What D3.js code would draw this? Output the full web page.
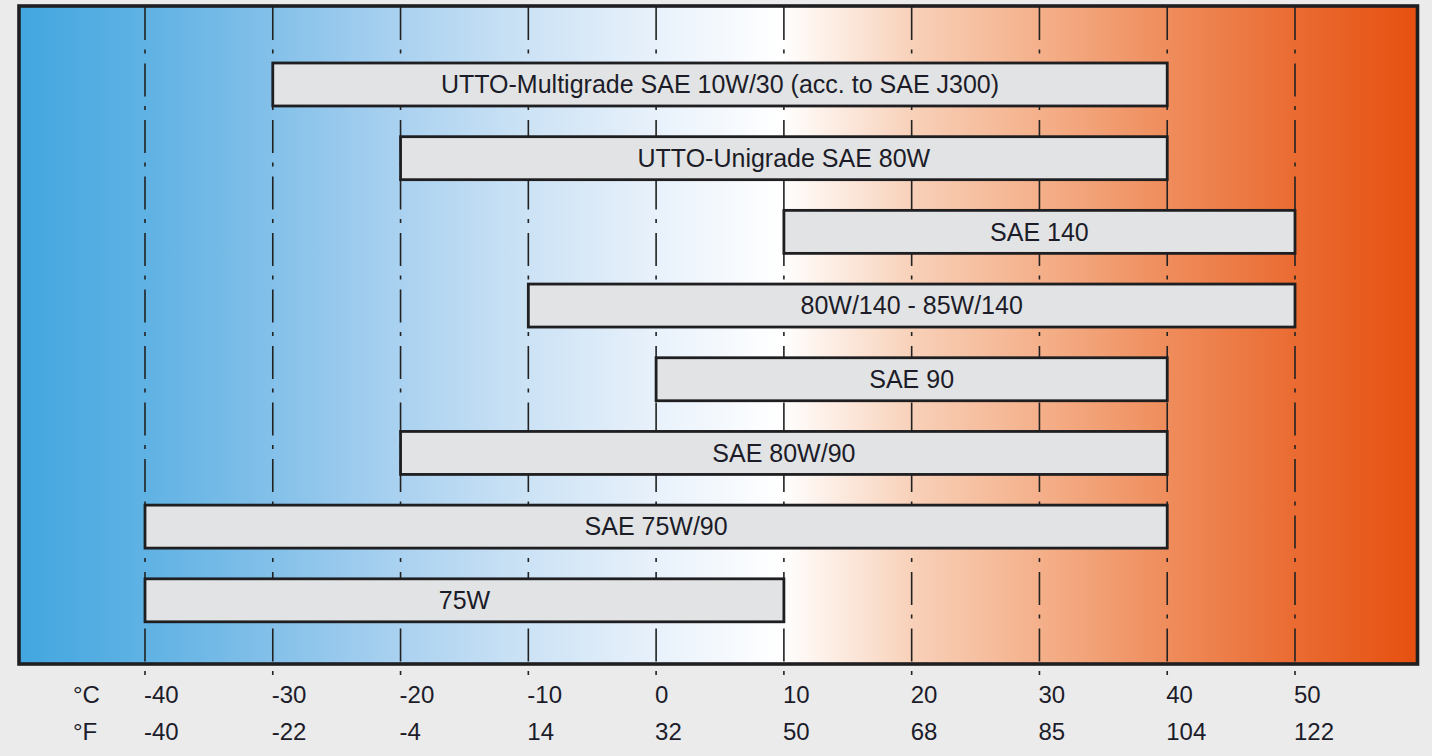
<!DOCTYPE html>
<html>
<head>
<meta charset="utf-8">
<script src="https://cdn.jsdelivr.net/npm/d3@7"></script>
<style>
  html, body { margin: 0; padding: 0; background: #ebebeb; }
  svg { display: block; }
  text { font-family: "Liberation Sans", Arial, Helvetica, sans-serif; }
</style>
</head>
<body>
<div id="chart"></div>
<script>
// ---- data ----
const categories = [
  "UTTO-Multigrade SAE 10W/30 (acc. to SAE J300)",
  "UTTO-Unigrade SAE 80W",
  "SAE 140",
  "80W/140 - 85W/140",
  "SAE 90",
  "SAE 80W/90",
  "SAE 75W/90",
  "75W"
];
const minTempC = [-30, -20, 10, -10, 0, -20, -40, -40];
const maxTempC = [40, 40, 50, 50, 40, 40, 40, 10];
const celsiusTicks = [-40, -30, -20, -10, 0, 10, 20, 30, 40, 50];
const fahrenheitLabels = ["-40", "-22", "-4", "14", "32", "50", "68", "85", "104", "122"];
const unitLabels = ["°C", "°F"];

const W = 1432, H = 756;
const frame = { left: 19, right: 1417.5, top: 6, bottom: 664 };

const svg = d3.select("#chart").append("svg")
  .attr("width", W).attr("height", H);

const x = d3.scaleLinear().domain([-40, 50]).range([145, 1295]);
const y = d3.scaleBand().domain(categories).range([32.3, 652.5])
  .paddingInner(0.4165).paddingOuter(0.4165);

// gradient
const defs = svg.append("defs");
const grad = defs.append("linearGradient").attr("id", "bg")
  .attr("x1", 0).attr("x2", 1).attr("y1", 0).attr("y2", 0);
const stops = [
  [0.00, "#42a6df"],
  [0.09, "#5fb2e4"],
  [0.18, "#83c0e9"],
  [0.27, "#a9d1f0"],
  [0.36, "#cbe2f5"],
  [0.455, "#e8f1fb"],
  [0.545, "#ffffff"],
  [0.60, "#fbe4d6"],
  [0.64, "#f8d0b8"],
  [0.73, "#f4b08a"],
  [0.82, "#ef8d5c"],
  [0.91, "#ea6c33"],
  [1.00, "#e6500f"]
];
stops.forEach(s => grad.append("stop").attr("offset", s[0]).attr("stop-color", s[1]));

// plot background
svg.append("rect")
  .attr("x", frame.left).attr("y", frame.top)
  .attr("width", frame.right - frame.left).attr("height", frame.bottom - frame.top)
  .attr("fill", "url(#bg)");

// dash-dot grid lines
svg.append("g").selectAll("line").data(celsiusTicks).join("line")
  .attr("x1", d => x(d)).attr("x2", d => x(d))
  .attr("y1", frame.top + 1).attr("y2", 678)
  .attr("stroke", "#222").attr("stroke-width", 1.6)
  .attr("stroke-dasharray", "33 9.5 4 10");

// frame border
svg.append("rect")
  .attr("x", frame.left).attr("y", frame.top)
  .attr("width", frame.right - frame.left).attr("height", frame.bottom - frame.top)
  .attr("fill", "none").attr("stroke", "#1f1f22").attr("stroke-width", 3.6);

// bars
const bars = svg.append("g");
bars.selectAll("rect").data(categories).join("rect")
  .attr("x", (d, i) => x(minTempC[i]))
  .attr("y", d => y(d))
  .attr("width", (d, i) => x(maxTempC[i]) - x(minTempC[i]))
  .attr("height", y.bandwidth())
  .attr("fill", "#e2e3e5")
  .attr("stroke", "#1f1f22").attr("stroke-width", 2.8);

bars.selectAll("text").data(categories).join("text")
  .attr("x", (d, i) => (x(minTempC[i]) + x(maxTempC[i])) / 2)
  .attr("y", d => y(d) + y.bandwidth() / 2)
  .attr("dy", "0.35em")
  .attr("text-anchor", "middle")
  .attr("font-size", 25)
  .attr("fill", "#1c1c28")
  .text(d => d);

// axis labels
const axisG = svg.append("g").attr("font-size", 24).attr("fill", "#1c1c2a");
axisG.selectAll("text.c").data(celsiusTicks).join("text").attr("class", "c")
  .attr("x", d => x(d) - 1).attr("y", 703)
  .text(d => d);
axisG.selectAll("text.f").data(celsiusTicks).join("text").attr("class", "f")
  .attr("x", d => x(d) - 1).attr("y", 740)
  .text((d, i) => fahrenheitLabels[i]);
axisG.selectAll("text.u").data(unitLabels).join("text").attr("class", "u")
  .attr("x", 73).attr("y", (d, i) => i === 0 ? 703 : 740)
  .text(d => d);
</script>
</body>
</html>
